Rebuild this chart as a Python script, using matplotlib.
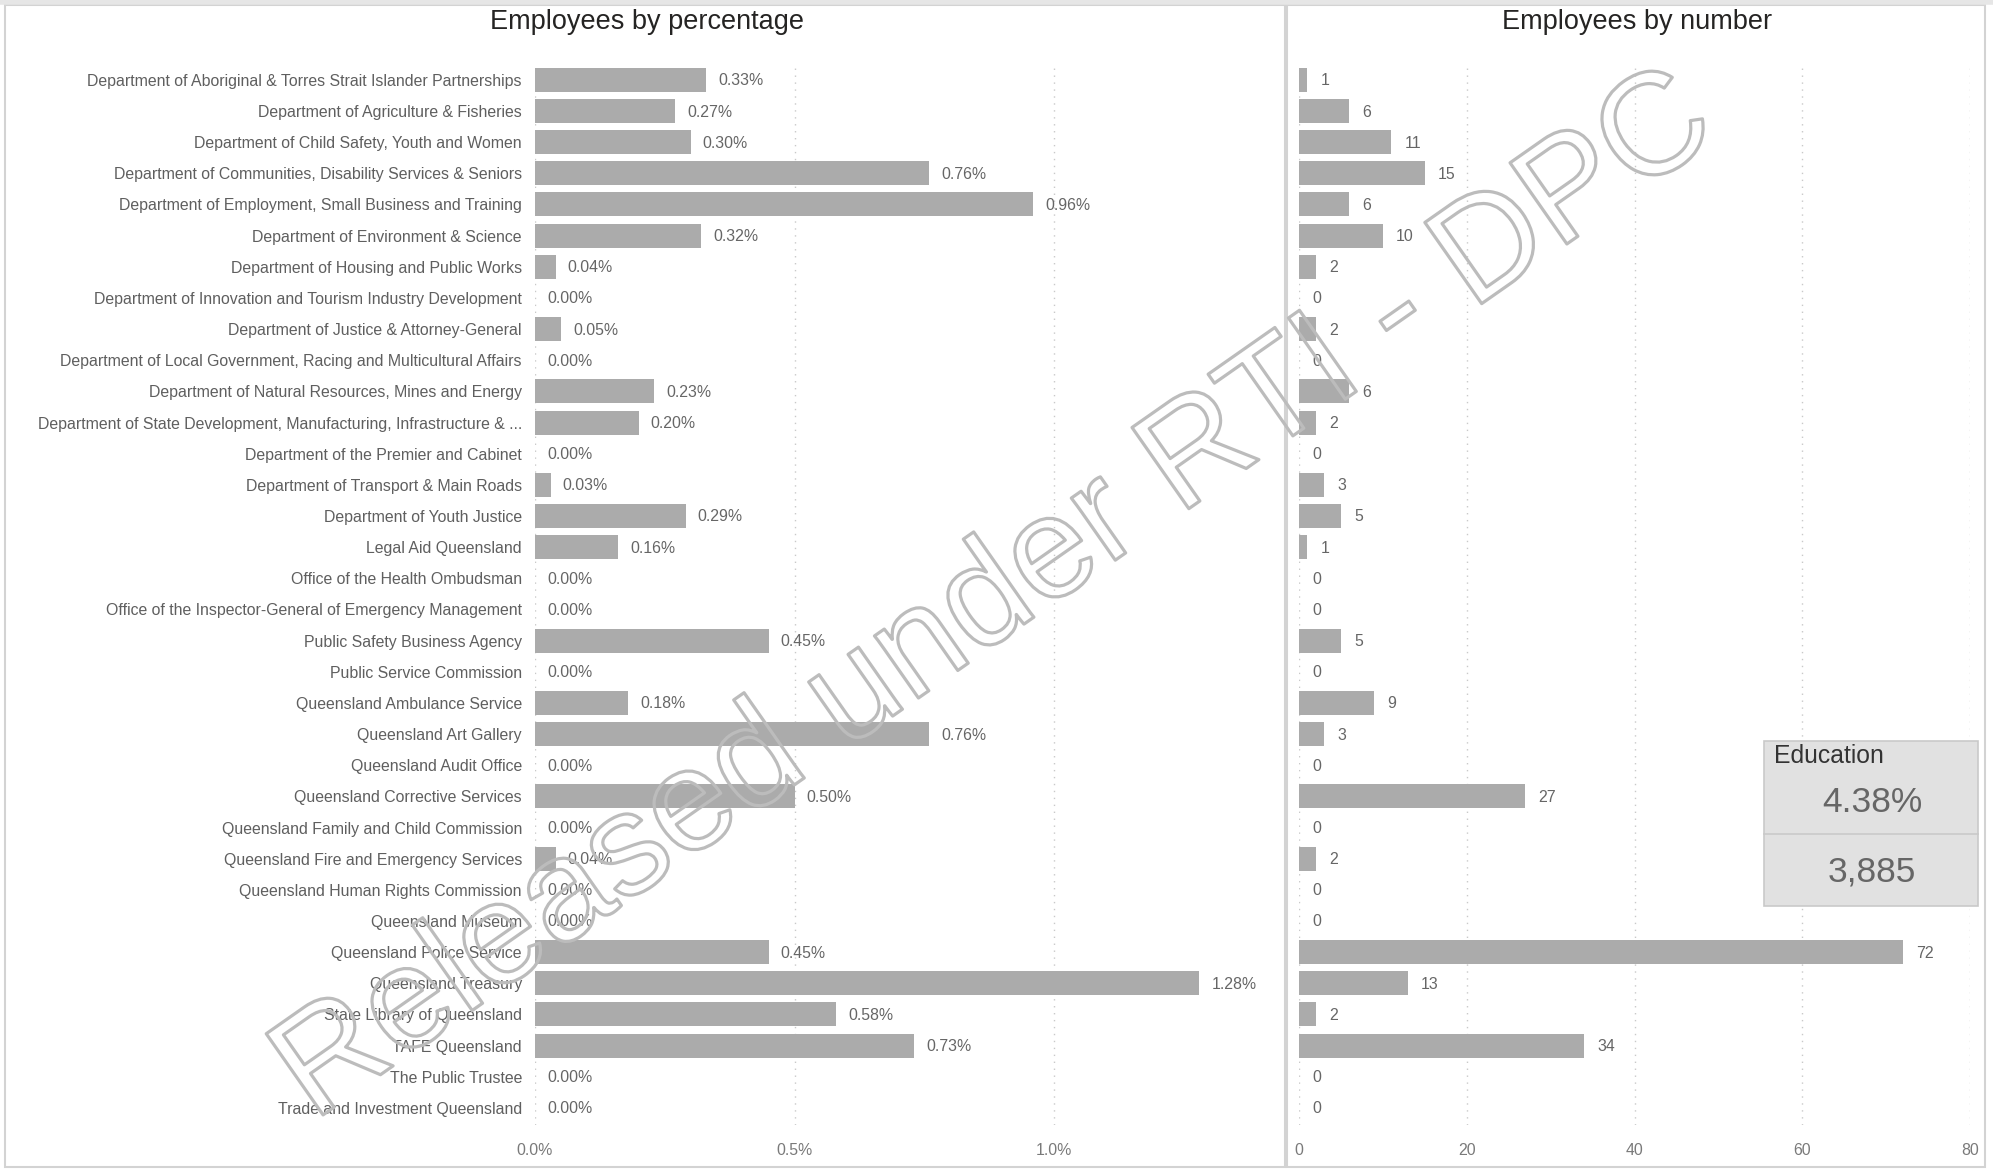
import matplotlib
matplotlib.use("Agg")
import matplotlib.pyplot as plt
import matplotlib.patheffects as pe
from matplotlib.patches import Rectangle
from matplotlib.lines import Line2D

plt.rcParams['font.family'] = ['Liberation Sans', 'DejaVu Sans']

categories = [
    "Department of Aboriginal & Torres Strait Islander Partnerships",
    "Department of Agriculture & Fisheries",
    "Department of Child Safety, Youth and Women",
    "Department of Communities, Disability Services & Seniors",
    "Department of Employment, Small Business and Training",
    "Department of Environment & Science",
    "Department of Housing and Public Works",
    "Department of Innovation and Tourism Industry Development",
    "Department of Justice & Attorney-General",
    "Department of Local Government, Racing and Multicultural Affairs",
    "Department of Natural Resources, Mines and Energy",
    "Department of State Development, Manufacturing, Infrastructure & ...",
    "Department of the Premier and Cabinet",
    "Department of Transport & Main Roads",
    "Department of Youth Justice",
    "Legal Aid Queensland",
    "Office of the Health Ombudsman",
    "Office of the Inspector-General of Emergency Management",
    "Public Safety Business Agency",
    "Public Service Commission",
    "Queensland Ambulance Service",
    "Queensland Art Gallery",
    "Queensland Audit Office",
    "Queensland Corrective Services",
    "Queensland Family and Child Commission",
    "Queensland Fire and Emergency Services",
    "Queensland Human Rights Commission",
    "Queensland Museum",
    "Queensland Police Service",
    "Queensland Treasury",
    "State Library of Queensland",
    "TAFE Queensland",
    "The Public Trustee",
    "Trade and Investment Queensland",
]

pct_values = [0.33, 0.27, 0.30, 0.76, 0.96, 0.32, 0.04, 0.00, 0.05, 0.00,
              0.23, 0.20, 0.00, 0.03, 0.29, 0.16, 0.00, 0.00, 0.45, 0.00,
              0.18, 0.76, 0.00, 0.50, 0.00, 0.04, 0.00, 0.00, 0.45, 1.28,
              0.58, 0.73, 0.00, 0.00]

num_values = [1, 6, 11, 15, 6, 10, 2, 0, 2, 0,
              6, 2, 0, 3, 5, 1, 0, 0, 5, 0,
              9, 3, 0, 27, 0, 2, 0, 0, 72, 13,
              2, 34, 0, 0]

pct_ticks = [0.0, 0.5, 1.0]
pct_tick_labels = ["0.0%", "0.5%", "1.0%"]
num_ticks = [0, 20, 40, 60, 80]
num_tick_labels = ["0", "20", "40", "60", "80"]

card_title = "Education"
card_pct = "4.38%"
card_num = "3,885"
watermark = "Released under RTI - DPC"

W, H = 1993, 1172
fig = plt.figure(figsize=(W / 100, H / 100), dpi=100)
fig.patch.set_facecolor('white')

BAR = '#ababab'
LBL = '#5f5f5f'
VAL = '#666666'
TCK = '#7a7a7a'
GRID = '#c9c9c9'
FS = 11.4

def fx(px):
    return px / W

def fy(py):
    return 1 - py / H

ax_top, ax_bot = 64, 1125
n = len(categories)
ypos = list(range(n))

axL = fig.add_axes([fx(535), fy(ax_bot), fx(1270) - fx(535), fy(ax_top) - fy(ax_bot)])
axR = fig.add_axes([fx(1299), fy(ax_bot), fx(1970) - fx(1299), fy(ax_top) - fy(ax_bot)])

for ax in (axL, axR):
    for s in ax.spines.values():
        s.set_visible(False)
    ax.set_ylim(33.55, -0.51)
    ax.tick_params(axis='both', length=0)
    ax.set_facecolor('none')

axL.barh(ypos, pct_values, height=0.77, color=BAR, zorder=2)
axL.set_xlim(0, 1.416)
axL.set_xticks(pct_ticks)
axL.set_xticklabels(pct_tick_labels, color=TCK, fontsize=FS)
axL.tick_params(axis='x', pad=13)
axL.set_yticks(ypos)
axL.set_yticklabels(categories, color=LBL, fontsize=FS)
axL.tick_params(axis='y', pad=9.4)
axL.grid(axis='x', linestyle=(0, (1, 4)), color=GRID, lw=1, zorder=0)
for y, v in zip(ypos, pct_values):
    axL.annotate(f"{v:.2f}%", xy=(v, y), xytext=(12, -1), textcoords='offset pixels',
                 ha='left', va='center', color=VAL, fontsize=FS)

axR.barh(ypos, num_values, height=0.77, color=BAR, zorder=2)
axR.set_xlim(0, 80)
axR.set_xticks(num_ticks)
axR.set_xticklabels(num_tick_labels, color=TCK, fontsize=FS)
axR.tick_params(axis='x', pad=13)
axR.set_yticks([])
axR.grid(axis='x', linestyle=(0, (1, 4)), color=GRID, lw=1, zorder=0)
for y, v in zip(ypos, num_values):
    axR.annotate(f"{v}", xy=(v, y), xytext=(13, -1), textcoords='offset pixels',
                 ha='left', va='center', color=VAL, fontsize=FS)

# Titles
fig.text(fx(647), fy(22), "Employees by percentage", ha='center', va='center',
         fontsize=19.5, color='#252423')
fig.text(fx(1637), fy(22), "Employees by number", ha='center', va='center',
         fontsize=19.5, color='#252423')

# Panel frames
BORDER = '#d3d3d3'
fig.add_artist(Rectangle((fx(5), fy(1167)), fx(1285) - fx(5), fy(5) - fy(1167),
                         transform=fig.transFigure, fill=False, ec=BORDER, lw=1.5))
fig.add_artist(Rectangle((fx(1287), fy(1167)), fx(1985) - fx(1287), fy(5) - fy(1167),
                         transform=fig.transFigure, fill=False, ec=BORDER, lw=1.5))
fig.add_artist(Line2D([0, 1], [fy(2), fy(2)], transform=fig.transFigure,
                      color='#e6e6e6', lw=4))

# Card
fig.add_artist(Rectangle((fx(1764), fy(906)), fx(1978) - fx(1764), fy(741) - fy(906),
                         transform=fig.transFigure, fc='#e1e1e1', ec='#c9c9c9', lw=1.2, zorder=5))
fig.add_artist(Line2D([fx(1764), fx(1978)], [fy(834), fy(834)], transform=fig.transFigure,
                      color='#c9c9c9', lw=1.2, zorder=6))
fig.text(fx(1774), fy(756), card_title, ha='left', va='center', fontsize=17.8,
         color='#333333', zorder=7)
fig.text(fx(1872), fy(803), card_pct, ha='center', va='center', fontsize=25.5,
         color='#666666', zorder=7)
fig.text(fx(1872), fy(872), card_num, ha='center', va='center', fontsize=25.5,
         color='#666666', zorder=7)

# Watermark
fig.text(fx(1017), fy(629), watermark, ha='center', va='baseline', rotation=35,
         rotation_mode='anchor', fontsize=103.7, color='none', zorder=10,
         path_effects=[pe.Stroke(linewidth=2.3, foreground='#bcbcbc')])

fig.savefig("out.png", dpi=100, facecolor='white')
